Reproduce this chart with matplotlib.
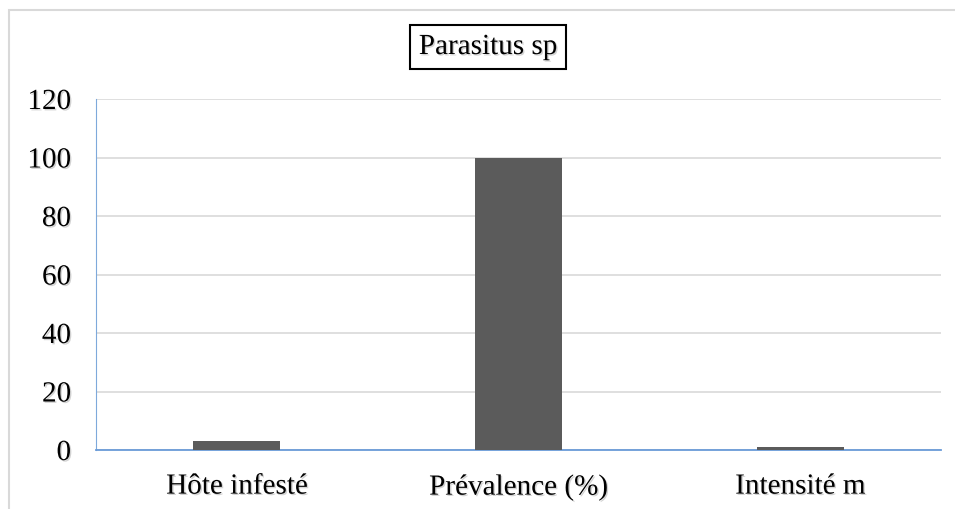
import matplotlib.pyplot as plt
import matplotlib.patheffects as pe
from matplotlib.patches import Rectangle

categories = ["Hôte infesté", "Prévalence (%)", "Intensité m"]
values = [3, 100, 1]
yticks = [0, 20, 40, 60, 80, 100, 120]
title = "Parasitus sp"

serif = ["Liberation Serif", "DejaVu Serif"]
plt.rcParams["font.family"] = serif
shadow = [pe.withSimplePatchShadow(offset=(1, -1), shadow_rgbFace="gray", alpha=0.35)]

fig = plt.figure(figsize=(9.55, 5.10), dpi=100)
ax = fig.add_axes([96 / 955, 59 / 510, 845 / 955, 351 / 510])

# outer chart frame
fig.patches.append(Rectangle((9 / 955, -0.1), 1.1, (510 - 11) / 510 + 0.1,
                             transform=fig.transFigure, fill=False,
                             edgecolor="#D9D9D9", linewidth=1.5))

x = range(len(categories))
ax.bar(x, values, width=0.31, color="#5B5B5B", zorder=3)
ax.set_xlim(-0.5, len(categories) - 0.5)
ax.set_ylim(0, 120)
ax.set_yticks(yticks)
ax.set_yticklabels([str(v) for v in yticks])
ax.set_xticks(list(x))
ax.set_xticklabels(categories)
ax.yaxis.grid(True, color="#D9D9D9", linewidth=1.2, zorder=0)
ax.tick_params(axis="both", length=0, labelsize=21)
ax.tick_params(axis="y", pad=18)
ax.tick_params(axis="x", pad=17)
for lab in ax.get_xticklabels() + ax.get_yticklabels():
    lab.set_path_effects(shadow)
for s in ["top", "right"]:
    ax.spines[s].set_visible(False)
ax.spines["left"].set_color("#7EA9DB")
ax.spines["bottom"].set_color("#6A9BD8")
ax.spines["bottom"].set_linewidth(1.3)

t = fig.text(488 / 955, 1 - 48 / 510, title, ha="center", va="center", fontsize=21,
             family=serif,
             bbox=dict(boxstyle="square,pad=0.3", facecolor="white",
                       edgecolor="black", linewidth=1.5))
t.set_path_effects(shadow)

fig.savefig("out.png", dpi=100)
